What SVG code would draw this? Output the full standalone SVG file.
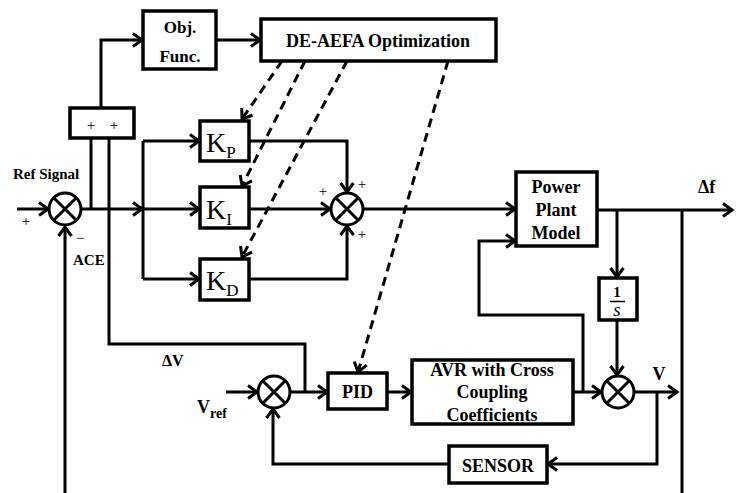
<svg xmlns="http://www.w3.org/2000/svg" width="743" height="493" viewBox="0 0 743 493">
<style>
.box{fill:#fff;stroke:#000;stroke-width:3.5}
.ln{fill:none;stroke:#000;stroke-width:3}
.ds{fill:none;stroke:#000;stroke-width:3;stroke-dasharray:9 6}
.sum circle{fill:#fff;stroke:#000;stroke-width:3}
.sum path{fill:none;stroke:#000;stroke-width:3}
.b{font-family:"Liberation Serif","Times New Roman",serif;font-weight:bold;fill:#000}
.k{font-family:"Liberation Serif","Times New Roman",serif;fill:#000}
.p{font-family:"Liberation Serif","Times New Roman",serif;font-size:15px;fill:#000}
</style>
<defs>
<marker id="a" markerUnits="userSpaceOnUse" markerWidth="16" markerHeight="18" viewBox="-13 -9 16 18" refX="0" refY="0" orient="auto">
<path d="M-9,-6.5 L0,0 L-9,6.5" fill="none" stroke="#000" stroke-width="3" stroke-dasharray="none"/>
</marker>
</defs>
<rect width="743" height="493" fill="#fff"/>
<g id="connectors">
<path class="ln" d="M17,209 H48" marker-end="url(#a)"/>
<path class="ln" d="M65,493 V227" marker-end="url(#a)"/>
<path class="ln" d="M82,209 H142" marker-end="url(#a)"/>
<path class="ln" d="M143,209 H199" marker-end="url(#a)"/>
<path class="ln" d="M143,141 V279"/>
<path class="ln" d="M143,141 H199" marker-end="url(#a)"/>
<path class="ln" d="M143,279 H199" marker-end="url(#a)"/>
<path class="ln" d="M91,138 V209"/>
<path class="ln" d="M109,138 V344 H305 V392"/>
<path class="ln" d="M101,108 V40 H142" marker-end="url(#a)"/>
<path class="ln" d="M216,40 H260" marker-end="url(#a)"/>
<path class="ln" d="M249,141 H347 V192" marker-end="url(#a)"/>
<path class="ln" d="M249,209 H330" marker-end="url(#a)"/>
<path class="ln" d="M249,279 H347 V226" marker-end="url(#a)"/>
<path class="ln" d="M363,209 H515" marker-end="url(#a)"/>
<path class="ln" d="M597,210 H732" marker-end="url(#a)"/>
<path class="ln" d="M617,210 V277" marker-end="url(#a)"/>
<path class="ln" d="M617,320 V375" marker-end="url(#a)"/>
<path class="ln" d="M682,210 V493"/>
<path class="ln" d="M573,392 H601" marker-end="url(#a)"/>
<path class="ln" d="M583,392 V315 H479 V241 H515" marker-end="url(#a)"/>
<path class="ln" d="M634,392 H677" marker-end="url(#a)"/>
<path class="ln" d="M657,392 V464 H548" marker-end="url(#a)"/>
<path class="ln" d="M449,464 H273 V409" marker-end="url(#a)"/>
<path class="ln" d="M226,392 H257" marker-end="url(#a)"/>
<path class="ln" d="M290,392 H327" marker-end="url(#a)"/>
<path class="ln" d="M387,392 H411" marker-end="url(#a)"/>
<path class="ds" d="M282,61 L242,119" marker-end="url(#a)"/>
<path class="ds" d="M305,61 L242,186" marker-end="url(#a)"/>
<path class="ds" d="M347,61 L242,257" marker-end="url(#a)"/>
<path class="ds" d="M448,61 L358,372" marker-end="url(#a)"/>
</g>
<g id="sum1" class="sum">
<circle cx="65" cy="209" r="16"/>
<path d="M53.7,197.7 L76.3,220.3 M76.3,197.7 L53.7,220.3"/>
<text class="p" x="26" y="226" text-anchor="middle">+</text>
<text class="p" x="80" y="243" text-anchor="middle">−</text>
</g>
<g id="sum2" class="sum">
<circle cx="347" cy="209" r="16"/>
<path d="M335.7,197.7 L358.3,220.3 M358.3,197.7 L335.7,220.3"/>
<text class="p" x="323" y="196" text-anchor="middle">+</text>
<text class="p" x="362" y="189" text-anchor="middle">+</text>
<text class="p" x="362" y="239" text-anchor="middle">+</text>
</g>
<g id="sum3" class="sum">
<circle cx="274" cy="392" r="16"/>
<path d="M262.7,380.7 L285.3,403.3 M285.3,380.7 L262.7,403.3"/>
</g>
<g id="sum4" class="sum">
<circle cx="618" cy="392" r="16"/>
<path d="M606.7,380.7 L629.3,403.3 M629.3,380.7 L606.7,403.3"/>
</g>
<g id="objfunc">
<rect class="box" x="143" y="11" width="73" height="58"/>
<text class="b" x="180" y="33" font-size="17" text-anchor="middle">Obj.</text>
<text class="b" x="180" y="62" font-size="17" text-anchor="middle">Func.</text>
</g>
<g id="deaefa">
<rect class="box" x="261" y="19" width="235" height="42"/>
<text class="b" x="378" y="47" font-size="18" text-anchor="middle">DE-AEFA Optimization</text>
</g>
<g id="plusbox">
<rect class="box" x="70" y="108" width="64" height="30"/>
<text class="p" x="91" y="130" text-anchor="middle">+</text>
<text class="p" x="114" y="130" text-anchor="middle">+</text>
</g>
<g id="kp">
<rect class="box" x="200" y="121" width="49" height="40"/>
<text class="k" x="206" y="152" font-size="28">K<tspan font-size="17" dy="6">P</tspan></text>
</g>
<g id="ki">
<rect class="box" x="200" y="187" width="49" height="41"/>
<text class="k" x="206" y="219" font-size="28">K<tspan font-size="17" dy="6">I</tspan></text>
</g>
<g id="kd">
<rect class="box" x="200" y="259" width="49" height="41"/>
<text class="k" x="206" y="290" font-size="28">K<tspan font-size="17" dy="6">D</tspan></text>
</g>
<g id="plant">
<rect class="box" x="516" y="172" width="81" height="74"/>
<text class="b" x="556" y="193" font-size="18" text-anchor="middle">Power</text>
<text class="b" x="556" y="216" font-size="18" text-anchor="middle">Plant</text>
<text class="b" x="556" y="239" font-size="18" text-anchor="middle">Model</text>
</g>
<g id="integrator">
<rect class="box" x="599" y="278" width="38" height="42"/>
<text class="b" x="617" y="297" font-size="15" text-anchor="middle">1</text>
<path d="M610,301.5 H625" stroke="#000" stroke-width="1.5"/>
<text class="k" x="617" y="316" font-size="19" font-style="italic" text-anchor="middle">s</text>
</g>
<g id="pid">
<rect class="box" x="328" y="373" width="59" height="36"/>
<text class="b" x="357.5" y="398" font-size="18" text-anchor="middle">PID</text>
</g>
<g id="avr">
<rect class="box" x="412" y="360" width="161" height="64"/>
<text class="b" x="492" y="376" font-size="18" text-anchor="middle">AVR with Cross</text>
<text class="b" x="492" y="398" font-size="18" text-anchor="middle">Coupling</text>
<text class="b" x="492" y="421" font-size="18" text-anchor="middle">Coefficients</text>
</g>
<g id="sensor">
<rect class="box" x="449" y="446" width="98" height="37"/>
<text class="b" x="498" y="472" font-size="18" text-anchor="middle">SENSOR</text>
</g>
<g id="labels">
<text class="b" x="13" y="179" font-size="15">Ref Signal</text>
<text class="b" x="73" y="265" font-size="15">ACE</text>
<text class="b" x="162" y="366" font-size="16">ΔV</text>
<text class="b" x="197" y="413" font-size="18">V<tspan font-size="14" dy="5">ref</tspan></text>
<text class="b" x="698" y="193" font-size="18">Δf</text>
<text class="b" x="659" y="380" font-size="18" text-anchor="middle">V</text>
</g>
</svg>
